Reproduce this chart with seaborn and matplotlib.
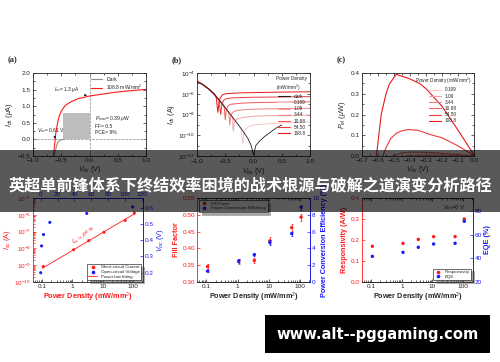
import numpy as np
import matplotlib
matplotlib.use('Agg')
import matplotlib.pyplot as plt
import seaborn as sns
from matplotlib.patches import Rectangle
from matplotlib.lines import Line2D
from matplotlib.ticker import MultipleLocator, AutoMinorLocator, FixedLocator, NullFormatter, LogLocator

# ---------------- data ----------------
# (a) I-V, dark and 108.8 mW/mm2
a_dark_v = [-0.63, -0.61, -0.59, -0.57, -0.55, -0.52, -0.48, -0.45]
a_dark_i = [-0.5, -0.38, -0.24, -0.12, -0.06, -0.02, -0.005, 0.0]
a_light_v = [-0.64, -0.62, -0.6, -0.57, -0.54, -0.5, -0.45, -0.4, -0.3, -0.2, -0.1, 0.0, 0.2, 0.4, 0.6, 0.8, 1.0]
a_light_i = [-0.5, -0.2, 0.15, 0.45, 0.68, 0.85, 0.98, 1.06, 1.16, 1.23, 1.27, 1.31, 1.36, 1.41, 1.45, 1.48, 1.51]

# (b) log10 |I_ds| (A)
densities = ['0.109', '1.09', '3.44', '10.88', '54.50', '108.8']
b_dark_v = [-1.0, -0.9, -0.8, -0.7, -0.6, -0.5, -0.4, -0.3, -0.2, -0.1, -0.04, 0.0, 0.04, 0.1, 0.2, 0.3, 0.4, 0.5]
b_dark_log = [-4.8, -5.1, -5.5, -6.0, -6.65, -7.35, -8.05, -8.75, -9.5, -10.3, -11.0, -11.9, -11.0, -10.6, -10.1, -9.7, -9.3, -9.0]
b_v_0109 = [-1.0, -0.9, -0.8, -0.7, -0.6, -0.5, -0.4, -0.3, -0.22, -0.19, -0.17, -0.14, -0.1, 0.0, 0.5, 1.0]
b_log_0109 = [-4.8, -5.1, -5.5, -6.0, -6.65, -7.35, -8.05, -8.75, -9.35, -10.8, -9.8, -9.45, -9.2, -9.0, -8.8, -8.7]
b_v_109 = [-1.0, -0.9, -0.8, -0.7, -0.6, -0.5, -0.4, -0.37, -0.36, -0.34, -0.3, -0.2, 0.0, 0.5, 1.0]
b_log_109 = [-4.8, -5.1, -5.5, -6.0, -6.65, -7.35, -8.05, -8.3, -9.6, -8.75, -8.45, -8.3, -8.15, -8.08, -8.05]
b_v_344 = [-1.0, -0.9, -0.8, -0.7, -0.6, -0.5, -0.44, -0.42, -0.4, -0.36, -0.3, -0.1, 0.0, 0.5, 1.0]
b_log_344 = [-4.8, -5.1, -5.5, -6.0, -6.65, -7.3, -7.75, -9.0, -8.0, -7.75, -7.6, -7.5, -7.48, -7.42, -7.4]
b_v_1088 = [-1.0, -0.9, -0.8, -0.7, -0.6, -0.52, -0.5, -0.48, -0.45, -0.4, -0.2, 0.0, 0.5, 1.0]
b_log_1088 = [-4.8, -5.1, -5.5, -6.0, -6.65, -7.2, -8.5, -7.5, -7.15, -7.0, -6.9, -6.85, -6.8, -6.77]
b_v_545 = [-1.0, -0.9, -0.8, -0.7, -0.61, -0.58, -0.56, -0.53, -0.5, -0.4, -0.2, 0.0, 0.5, 1.0]
b_log_545 = [-4.8, -5.1, -5.5, -6.0, -6.6, -8.0, -7.0, -6.65, -6.5, -6.4, -6.35, -6.33, -6.3, -6.27]
b_v_1088b = [-1.0, -0.9, -0.8, -0.7, -0.66, -0.63, -0.61, -0.59, -0.55, -0.5, -0.4, -0.2, 0.0, 0.5, 1.0]
b_log_1088b = [-4.8, -5.1, -5.5, -6.0, -6.35, -7.8, -6.75, -6.4, -6.1, -6.0, -5.95, -5.9, -5.88, -5.83, -5.8]

# (c) electrical output power (uW)
c_v_0109 = [-0.19, -0.1, 0.0]
c_p_0109 = [0.0, 0.0002, 0.0]
c_v_109 = [-0.36, -0.3, -0.2, -0.1, 0.0]
c_p_109 = [0.0, 0.001, 0.0012, 0.0008, 0.0]
c_v_344 = [-0.43, -0.4, -0.3, -0.2, -0.1, 0.0]
c_p_344 = [0.0, 0.004, 0.005, 0.004, 0.002, 0.0]
c_v_1088 = [-0.51, -0.45, -0.4, -0.3, -0.2, -0.1, 0.0]
c_p_1088 = [0.0, 0.015, 0.019, 0.018, 0.013, 0.007, 0.0]
c_v_545 = [-0.57, -0.55, -0.52, -0.485, -0.45, -0.41, -0.35, -0.28, -0.2, -0.11, 0.0]
c_p_545 = [0.0, 0.04, 0.085, 0.11, 0.122, 0.128, 0.124, 0.105, 0.088, 0.053, 0.003]
c_v_1088b = [-0.61, -0.58, -0.55, -0.53, -0.5, -0.485, -0.45, -0.4, -0.34, -0.3, -0.2, -0.1, 0.0]
c_p_1088b = [0.0, 0.2, 0.3, 0.345, 0.38, 0.394, 0.385, 0.372, 0.35, 0.325, 0.24, 0.125, 0.005]

# (d)-(f) versus power density
power = [0.109, 1.09, 3.44, 10.88, 54.5, 108.8]
isc = [8.3e-10, 8.3e-9, 2.9e-8, 9.1e-8, 4.6e-7, 1.26e-6]
voc = [0.20, 0.365, 0.435, 0.51, 0.565, 0.605]
fit_p = [0.1, 110]
fit_i = [6.5e-10, 1.15e-6]
ff = [0.346, 0.361, 0.364, 0.4225, 0.462, 0.493]
ff_err = [0.008, 0.007, 0.008, 0.010, 0.010, 0.010]
pce = [1.3, 2.5, 3.25, 4.7, 5.76, 8.9]
pce_err = [0.15, 0.2, 0.2, 0.25, 0.25, 0.3]
resp = [0.17, 0.184, 0.203, 0.216, 0.216, 0.30]
eqe = [41.8, 45.2, 49.5, 52.3, 52.9, 71.6]

# ---------------- style ----------------
sns.set_theme(style='ticks')
plt.rcParams['font.family'] = ['Liberation Sans', 'DejaVu Sans']
plt.rcParams['mathtext.fontset'] = 'custom'
plt.rcParams['mathtext.rm'] = 'Liberation Sans'
plt.rcParams['mathtext.it'] = 'Liberation Sans:italic'
plt.rcParams['mathtext.bf'] = 'Liberation Sans:bold'
plt.rcParams['axes.linewidth'] = 0.6

RED = '#ff1a1a'
BLUE = '#1a1aff'
reds = sns.blend_palette(['#f9c4c4', '#e81818'], 6)
TS = 4.6
LS = 5.2


def style(ax, top=True, right=True, size=TS):
    ax.tick_params(which='both', direction='in', top=top, right=right,
                   labelsize=size, pad=1.5, width=0.5)
    ax.tick_params(which='major', length=2.2)
    ax.tick_params(which='minor', length=1.2)


fig = plt.figure(figsize=(5.0, 3.62), dpi=100)
fig.patch.set_facecolor('white')

# ---------------- (a) ----------------
ax = fig.add_axes([0.066, 0.569, 0.226, 0.229])
ax.axhline(0, color='#888888', ls='--', lw=0.5)
ax.axvline(0, color='#888888', ls='--', lw=0.5)
ax.add_patch(Rectangle((-0.47, 0), 0.47, 0.8, facecolor='#bdbdbd', edgecolor='none'))
sns.lineplot(x=a_dark_v, y=a_dark_i, color='#8c8c8c', lw=0.8, sort=False, ax=ax)
sns.lineplot(x=a_light_v, y=a_light_i, color=RED, lw=0.8, sort=False, ax=ax)
ax.set_xlim(-1, 1)
ax.set_ylim(-0.5, 2.0)
ax.xaxis.set_major_locator(MultipleLocator(0.5))
ax.yaxis.set_major_locator(MultipleLocator(0.5))
ax.xaxis.set_minor_locator(AutoMinorLocator(2))
ax.yaxis.set_minor_locator(AutoMinorLocator(2))
style(ax)
ax.set_xlabel(r'$V_{ds}$ (V)', fontsize=LS, labelpad=1)
ax.set_ylabel(r'$I_{ds}$ ($\mu$A)', fontsize=LS, labelpad=2)
ax.legend(handles=[Line2D([], [], color='#8c8c8c', lw=0.8, label='Dark'),
                   Line2D([], [], color=RED, lw=0.8, label='108.8 mW/mm$^2$')],
          loc='upper right', fontsize=3.6, frameon=False, handlelength=2.2,
          borderaxespad=0.3, labelspacing=0.2)
ax.annotate(r'$I_{sc}$= 1.3 $\mu$A', xy=(0.0, 1.3), xytext=(-0.62, 1.45), fontsize=3.6,
            arrowprops=dict(arrowstyle='-|>', lw=0.4, color='black', mutation_scale=3))
ax.annotate(r'$V_{oc}$= 0.61 V', xy=(-0.6, 0.03), xytext=(-0.93, 0.22), fontsize=3.6,
            arrowprops=dict(arrowstyle='-|>', lw=0.4, color='black', mutation_scale=3))
ax.text(0.1, 0.78, '$P_{max}$= 0.39 $\\mu$W\nFF= 0.5\nPCE= 9%', fontsize=3.6, va='top',
        linespacing=1.3)
fig.text(0.016, 0.829, '(a)', fontsize=6, fontweight='bold', family='Liberation Serif')

# ---------------- (b) ----------------
ax = fig.add_axes([0.394, 0.569, 0.226, 0.229])
ax.set_yscale('log')
b_sets = [(b_v_0109, b_log_0109), (b_v_109, b_log_109), (b_v_344, b_log_344),
          (b_v_1088, b_log_1088), (b_v_545, b_log_545), (b_v_1088b, b_log_1088b)]
for (v, lg), col in zip(b_sets, reds):
    sns.lineplot(x=v, y=10 ** np.array(lg), color=col, lw=0.7, sort=False, ax=ax)
sns.lineplot(x=b_dark_v, y=10 ** np.array(b_dark_log), color='#222222', lw=0.6, sort=False, ax=ax)
ax.set_xlim(-1, 1)
ax.set_ylim(1e-12, 1e-4)
ax.yaxis.set_major_locator(FixedLocator([1e-12, 1e-10, 1e-8, 1e-6, 1e-4]))
ax.yaxis.set_minor_locator(LogLocator(base=10, subs=[1.0], numticks=20))
ax.yaxis.set_minor_formatter(NullFormatter())
ax.xaxis.set_major_locator(MultipleLocator(0.5))
ax.xaxis.set_minor_locator(AutoMinorLocator(2))
style(ax)
ax.tick_params(axis='x', pad=2.5)
ax.set_xlabel(r'$V_{ds}$ (V)', fontsize=LS, labelpad=1)
ax.set_ylabel(r'$I_{ds}$ (A)', fontsize=LS, labelpad=1)
hb = [Line2D([], [], color='#222222', lw=0.8, label='dark')]
hb += [Line2D([], [], color=c, lw=0.8, label=d) for c, d in zip(reds, densities)]
ax.legend(handles=hb, loc='upper right', fontsize=3.4, frameon=False,
          title='Power Density\n(mW/mm$^2$)', title_fontsize=3.4, handlelength=2.6,
          borderaxespad=0.2, labelspacing=0.25)
fig.text(0.344, 0.829, '(b)', fontsize=6, fontweight='bold', family='Liberation Serif')

# ---------------- (c) ----------------
ax = fig.add_axes([0.724, 0.569, 0.224, 0.229])
c_sets = [(c_v_0109, c_p_0109), (c_v_109, c_p_109), (c_v_344, c_p_344),
          (c_v_1088, c_p_1088), (c_v_545, c_p_545), (c_v_1088b, c_p_1088b)]
for (v, p), col in zip(c_sets, reds):
    sns.lineplot(x=v, y=p, color=col, lw=0.8, sort=False, ax=ax)
ax.set_xlim(-0.7, 0.0)
ax.set_ylim(0.0, 0.4)
ax.xaxis.set_major_locator(MultipleLocator(0.1))
ax.yaxis.set_major_locator(MultipleLocator(0.1))
ax.xaxis.set_minor_locator(AutoMinorLocator(2))
ax.yaxis.set_minor_locator(AutoMinorLocator(2))
style(ax)
ax.set_xlabel(r'$V_{ds}$ (V)', fontsize=LS, labelpad=1)
ax.set_ylabel(r'$P_{el}$ ($\mu$W)', fontsize=LS, labelpad=2)
hc = [Line2D([], [], color=c, lw=0.8, label=d) for c, d in zip(reds, densities)]
ax.legend(handles=hc, loc='upper right', fontsize=3.4, frameon=False,
          title='Power Density (mW/mm$^2$)', title_fontsize=3.4, handlelength=2.6,
          borderaxespad=0.2, labelspacing=0.25)
fig.text(0.674, 0.829, '(c)', fontsize=6, fontweight='bold', family='Liberation Serif')

# ---------------- (d) ----------------
ax = fig.add_axes([0.066, 0.221, 0.22, 0.232])
ax.set_xscale('log')
ax.set_yscale('log')
sns.lineplot(x=fit_p, y=fit_i, color=RED, lw=0.6, ax=ax)
sns.scatterplot(x=power, y=isc, color=RED, s=5, edgecolor='none', ax=ax, zorder=3)
ax.set_xlim(0.05, 210)
ax.set_ylim(1e-10, 1e-5)
ax.xaxis.set_major_locator(FixedLocator([0.1, 1, 10, 100]))
ax.set_xticklabels(['0.1', '1', '10', '100'])
ax.xaxis.set_minor_locator(LogLocator(base=10, subs=np.arange(2, 10) * 1.0, numticks=20))
ax.xaxis.set_minor_formatter(NullFormatter())
ax.yaxis.set_minor_formatter(NullFormatter())
style(ax, top=False, right=False, size=TS)
ax.tick_params(axis='y', colors=RED, which='both')
ax.spines['left'].set_color(RED)
ax.set_xlabel('Power Density (mW/mm$^2$)', fontsize=LS, fontweight='bold', color=RED, labelpad=1)
ax.set_ylabel(r'$I_{sc}$ (A)', fontsize=LS, color=RED, labelpad=1)
ax.text(2.3, 5.5e-8, r'$I_{sc}$$\propto$$P^{0.96}$', color=RED, fontsize=4.2,
        rotation=30, ha='center', va='center')
ax2 = ax.twinx()
ax3 = ax2.twiny()
sns.scatterplot(x=power, y=voc, color=BLUE, s=5, edgecolor='none', ax=ax3, zorder=3)
ax2.set_ylim(0.143, 0.66)
ax3.set_xlim(-9, 121)
ax2.yaxis.set_major_locator(MultipleLocator(0.1))
ax3.xaxis.set_major_locator(MultipleLocator(20))
ax2.tick_params(axis='y', which='both', direction='in', colors=BLUE, labelsize=TS,
                pad=1.5, width=0.5, length=2.2)
ax3.tick_params(axis='x', which='both', direction='in', colors=BLUE, labelsize=TS,
                pad=1, width=0.5, length=2.2)
for s in ['left', 'top', 'bottom']:
    ax2.spines[s].set_visible(False)
for s in ['left', 'right', 'bottom']:
    ax3.spines[s].set_visible(False)
ax2.spines['right'].set_color(BLUE)
ax3.spines['top'].set_color(BLUE)
ax2.set_ylabel(r'$V_{oc}$ (V)', fontsize=LS, color=BLUE, labelpad=1)
ax3.legend(handles=[Line2D([], [], ls='none', marker='o', ms=1.6, color=RED, label='Short-circuit Current'),
                    Line2D([], [], ls='none', marker='o', ms=1.6, color=BLUE, label='Open-circuit Voltage'),
                    Line2D([], [], color=RED, lw=0.6, label='Power law fitting')],
           loc='lower right', fontsize=3.2, frameon=True, shadow=True, fancybox=False,
           edgecolor='black', handlelength=2.0, borderaxespad=0.4, labelspacing=0.15,
           borderpad=0.3).get_frame().set_linewidth(0.4)

# ---------------- (e) ----------------
ax = fig.add_axes([0.394, 0.221, 0.226, 0.232])
ax.set_xscale('log')
ax.errorbar(power, ff, yerr=ff_err, fmt='none', ecolor=RED, elinewidth=0.5, capsize=1, capthick=0.5)
sns.scatterplot(x=power, y=ff, color=RED, s=6, edgecolor='none', ax=ax, zorder=3)
ax.set_xlim(0.05, 210)
ax.set_ylim(0.30, 0.55)
ax.xaxis.set_major_locator(FixedLocator([0.1, 1, 10, 100]))
ax.set_xticklabels(['0.1', '1', '10', '100'])
ax.xaxis.set_minor_locator(LogLocator(base=10, subs=np.arange(2, 10) * 1.0, numticks=20))
ax.xaxis.set_minor_formatter(NullFormatter())
ax.yaxis.set_major_locator(MultipleLocator(0.05))
ax.yaxis.set_major_formatter(plt.FormatStrFormatter('%.2f'))
style(ax, top=True, right=False)
ax.tick_params(axis='y', colors=RED, which='both')
ax.spines['left'].set_color(RED)
ax.set_xlabel('Power Density (mW/mm$^2$)', fontsize=LS, fontweight='bold', labelpad=1)
ax.set_ylabel('Fill Factor', fontsize=LS, fontweight='bold', color=RED, labelpad=2)
ax2 = ax.twinx()
ax2.errorbar(power, pce, yerr=pce_err, fmt='none', ecolor=BLUE, elinewidth=0.5, capsize=1, capthick=0.5)
sns.scatterplot(x=power, y=pce, color=BLUE, s=6, edgecolor='none', ax=ax2, zorder=3)
ax2.set_ylim(0, 10)
ax2.yaxis.set_major_locator(MultipleLocator(2))
ax2.tick_params(axis='y', which='both', direction='in', colors=BLUE, labelsize=TS,
                pad=1.5, width=0.5, length=2.2)
ax2.spines['right'].set_color(BLUE)
ax2.spines['left'].set_visible(False)
ax2.set_ylabel('Power Conversion Efficiency (%)', fontsize=LS, fontweight='bold', color=BLUE, labelpad=1)
ax2.legend(handles=[Line2D([], [], ls='none', marker='o', ms=1.6, color=RED, label='Fill Factor'),
                    Line2D([], [], ls='none', marker='o', ms=1.6, color=BLUE, label='Power Conversion Efficiency')],
           loc='upper left', fontsize=3.2, frameon=True, shadow=True, fancybox=False,
           edgecolor='black', handlelength=1.6, borderaxespad=0.5, labelspacing=0.15,
           borderpad=0.3).get_frame().set_linewidth(0.4)

# ---------------- (f) ----------------
ax = fig.add_axes([0.724, 0.221, 0.222, 0.232])
ax.set_xscale('log')
sns.scatterplot(x=power, y=resp, color=RED, s=6, edgecolor='none', ax=ax, zorder=3)
ax.set_xlim(0.05, 210)
ax.set_ylim(0.0, 0.4)
ax.xaxis.set_major_locator(FixedLocator([0.1, 1, 10, 100]))
ax.set_xticklabels(['0.1', '1', '10', '100'])
ax.xaxis.set_minor_locator(LogLocator(base=10, subs=np.arange(2, 10) * 1.0, numticks=20))
ax.xaxis.set_minor_formatter(NullFormatter())
ax.yaxis.set_major_locator(MultipleLocator(0.1))
style(ax, top=True, right=False)
ax.tick_params(axis='y', colors=RED, which='both')
ax.spines['left'].set_color(RED)
ax.set_xlabel('Power Density (mW/mm$^2$)', fontsize=LS, fontweight='bold', labelpad=1)
ax.set_ylabel('Responsivity (A/W)', fontsize=LS, fontweight='bold', color=RED, labelpad=2)
ax.text(0.93, 0.94, r'$V_{ds}$=0 V', transform=ax.transAxes, ha='right', va='top', fontsize=4.2)
ax2 = ax.twinx()
sns.scatterplot(x=power, y=eqe, color=BLUE, s=6, edgecolor='none', ax=ax2, zorder=3)
ax2.set_ylim(20, 91.4)
ax2.yaxis.set_major_locator(MultipleLocator(20))
ax2.tick_params(axis='y', which='both', direction='in', colors=BLUE, labelsize=TS,
                pad=1.5, width=0.5, length=2.2)
ax2.spines['right'].set_color(BLUE)
ax2.spines['left'].set_visible(False)
ax2.set_ylabel('EQE (%)', fontsize=LS, fontweight='bold', color=BLUE, labelpad=1)
ax2.legend(handles=[Line2D([], [], ls='none', marker='o', ms=1.6, color=RED, label='Responsivity'),
                    Line2D([], [], ls='none', marker='o', ms=1.6, color=BLUE, label='EQE')],
           loc='lower right', fontsize=3.2, frameon=True, shadow=True, fancybox=False,
           edgecolor='black', handlelength=1.6, borderaxespad=0.4, labelspacing=0.15,
           borderpad=0.3).get_frame().set_linewidth(0.4)

# ---------------- overlay banner and watermark ----------------
fig.add_artist(Rectangle((0, 1 - 212 / 362), 1, 62 / 362, transform=fig.transFigure,
                         facecolor='black', alpha=0.65, edgecolor='none', zorder=10))
fig.text(0.5, 1 - 185 / 362, '英超单前锋体系下终结效率困境的战术根源与破解之道演变分析路径',
         ha='center', va='center', color='white', fontsize=11.6, fontweight='bold',
         family=['Noto Sans CJK SC', 'DejaVu Sans'], zorder=11)
fig.add_artist(Rectangle((265 / 500, 9 / 362), 225 / 500, 38 / 362, transform=fig.transFigure,
                         facecolor='black', edgecolor='none', zorder=10))
fig.text(377.5 / 500, 1 - 334 / 362, 'www.alt--pggaming.com', ha='center', va='center',
         color='white', fontsize=10.6, fontweight='bold', family='DejaVu Sans', zorder=11)

fig.savefig('out.png', dpi=100)
